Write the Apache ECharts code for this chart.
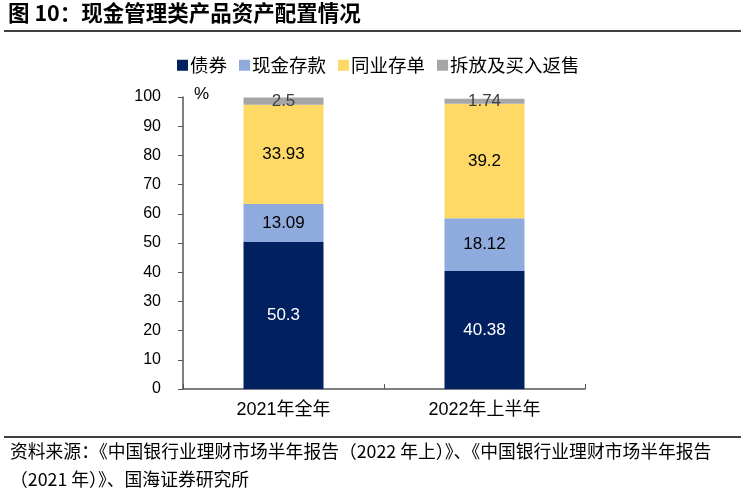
<!DOCTYPE html>
<html><head><meta charset="utf-8">
<script src="https://cdn.jsdelivr.net/npm/echarts@6/dist/echarts.min.js"></script>
<style>html,body{margin:0;padding:0;background:#fff;}#c{width:745px;height:499px;}</style>
</head><body><div id="c"></div>
<script>
var categories = ['2021年全年', '2022年上半年'];
var bonds = [50.3, 40.38];
var cashDeposits = [13.09, 18.12];
var ncds = [33.93, 39.2];
var repos = [2.5, 1.74];
var yTicks = [0, 10, 20, 30, 40, 50, 60, 70, 80, 90, 100];

var chart = echarts.init(document.getElementById('c'));
var fontLatin = 'Liberation Sans, Arial, sans-serif';
var fontCJK = 'Liberation Sans, Noto Sans CJK SC, sans-serif';
function mk(name, data, color, labelColor) {
  return {
    name: name, type: 'bar', stack: 'a', data: data, barWidth: 80,
    itemStyle: { color: color },
    label: { show: true, position: 'inside', color: labelColor, fontSize: 17, fontFamily: fontLatin }
  };
}
chart.setOption({
  animation: false,
  graphic: [
    { type: 'text', left: 8, top: 2, style: { text: '图 10：现金管理类产品资产配置情况', font: 'bold 21.5px "Noto Sans CJK SC", sans-serif', fill: '#000' } },
    { type: 'line', shape: { x1: 4, y1: 31, x2: 741, y2: 31 }, style: { stroke: '#000', lineWidth: 1.5 } },
    { type: 'line', shape: { x1: 4, y1: 437, x2: 741, y2: 437 }, style: { stroke: '#000', lineWidth: 1.5 } },
    { type: 'text', left: 10, top: 442, style: { text: '资料来源：《中国银行业理财市场半年报告（2022 年上）》、《中国银行业理财市场半年报告', font: '17.8px "Noto Sans CJK SC", sans-serif', fill: '#000' } },
    { type: 'text', left: 10, top: 470, style: { text: '（2021 年）》、国海证券研究所', font: '17.8px "Noto Sans CJK SC", sans-serif', fill: '#000' } },
    { type: 'text', left: 194, top: 86, style: { text: '%', font: '17px ' + fontLatin, fill: '#000' } }
  ],
  legend: {
    top: 51, left: 172, itemWidth: 11, itemHeight: 11, itemGap: 12, icon: 'rect',
    textStyle: { fontSize: 18.5, fontFamily: 'Noto Sans CJK SC, sans-serif', color: '#000', padding: [0, 0, 0, -3] },
    data: ['债券', '现金存款', '同业存单', '拆放及买入返售']
  },
  grid: { left: 183, right: 160, top: 97, bottom: 110 },
  xAxis: {
    type: 'category', data: categories,
    axisLine: { lineStyle: { color: '#555', width: 1.5 } },
    axisTick: { show: true, inside: true, length: 5, lineStyle: { color: '#555' } },
    axisLabel: { fontSize: 18, color: '#000', margin: 12, fontFamily: fontCJK }
  },
  yAxis: {
    type: 'value', min: 0, max: 100, interval: 10,
    splitLine: { show: false },
    axisLine: { show: true, lineStyle: { color: '#555', width: 1.5 } },
    axisTick: { show: true, length: 5, lineStyle: { color: '#555' } },
    axisLabel: { fontSize: 16, color: '#000', margin: 22, fontFamily: fontLatin,
      formatter: function (v) { return yTicks.indexOf(v) >= 0 ? String(v) : ''; } }
  },
  series: [
    mk('债券', bonds, '#002060', '#fff'),
    mk('现金存款', cashDeposits, '#8FAADC', '#000'),
    mk('同业存单', ncds, '#FFD966', '#000'),
    mk('拆放及买入返售', repos, '#A6A6A6', '#404040')
  ]
});
</script></body></html>
